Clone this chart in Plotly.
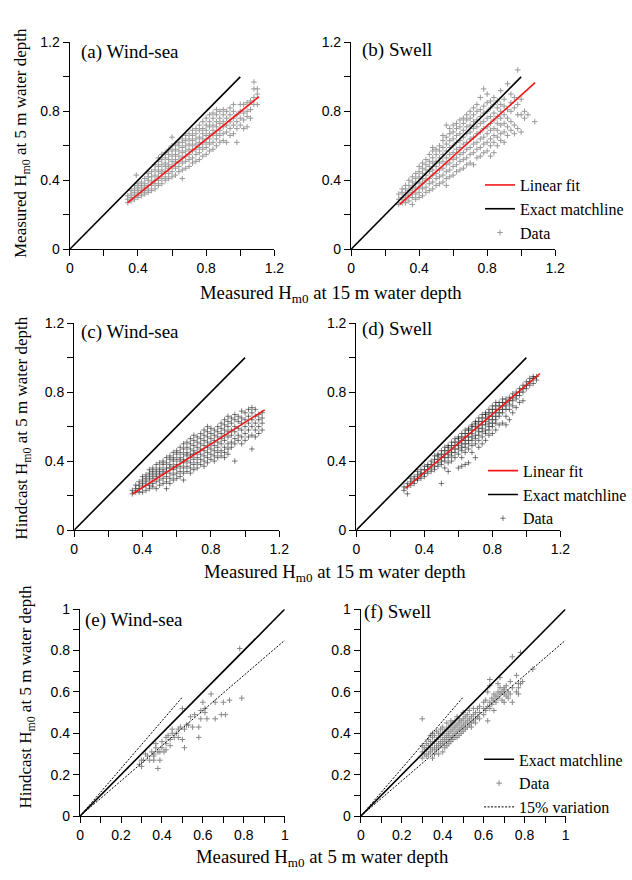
import plotly.graph_objects as go

W, H = 632, 880
def px(x): return x / W
def py(y): return 1 - y / H

# ---------------- data (columns of x with the y values read at that x) ----------------
A_X = [0.34, 0.36, 0.38, 0.39, 0.40, 0.42, 0.44, 0.46, 0.48, 0.50, 0.52, 0.54, 0.56, 0.58, 0.60,
       0.62, 0.64, 0.66, 0.68, 0.70, 0.72, 0.74, 0.76, 0.78, 0.80, 0.82, 0.84, 0.86, 0.88, 0.90,
       0.92, 0.94, 0.96, 0.98, 1.00, 1.02, 1.04, 1.06, 1.08, 1.10]
A_Y = [[0.27, 0.29, 0.31], [0.28, 0.30, 0.32, 0.34], [0.29, 0.31, 0.33, 0.35, 0.37], [0.43],
       [0.30, 0.32, 0.34, 0.36, 0.38], [0.31, 0.33, 0.35, 0.37, 0.39], [0.32, 0.34, 0.36, 0.38, 0.41],
       [0.33, 0.35, 0.37, 0.40, 0.42, 0.44], [0.34, 0.37, 0.39, 0.42, 0.45],
       [0.35, 0.38, 0.40, 0.43, 0.46, 0.49], [0.37, 0.40, 0.42, 0.45, 0.48, 0.51, 0.53],
       [0.38, 0.41, 0.44, 0.46, 0.49, 0.52, 0.55], [0.40, 0.42, 0.45, 0.48, 0.50, 0.53, 0.56],
       [0.41, 0.44, 0.47, 0.49, 0.52, 0.55, 0.58], [0.42, 0.45, 0.48, 0.51, 0.54, 0.57, 0.60, 0.65],
       [0.43, 0.47, 0.50, 0.52, 0.55, 0.58, 0.61], [0.45, 0.48, 0.51, 0.54, 0.57, 0.60, 0.62],
       [0.41, 0.46, 0.50, 0.53, 0.56, 0.59, 0.62, 0.64], [0.47, 0.51, 0.54, 0.57, 0.60, 0.63, 0.66],
       [0.48, 0.52, 0.55, 0.58, 0.61, 0.64, 0.67], [0.50, 0.53, 0.57, 0.60, 0.63, 0.66, 0.69],
       [0.51, 0.55, 0.58, 0.61, 0.64, 0.67, 0.70], [0.52, 0.56, 0.59, 0.62, 0.65, 0.69, 0.72],
       [0.54, 0.58, 0.61, 0.64, 0.67, 0.70, 0.74], [0.55, 0.59, 0.62, 0.66, 0.69, 0.72, 0.76],
       [0.57, 0.61, 0.64, 0.67, 0.71, 0.74, 0.78], [0.58, 0.62, 0.66, 0.69, 0.72, 0.76, 0.79],
       [0.60, 0.64, 0.67, 0.71, 0.74, 0.78, 0.81], [0.62, 0.66, 0.69, 0.73, 0.76, 0.80],
       [0.63, 0.67, 0.71, 0.74, 0.78, 0.81], [0.62, 0.68, 0.72, 0.76, 0.80],
       [0.66, 0.70, 0.74, 0.78, 0.82], [0.67, 0.72, 0.76, 0.80, 0.84], [0.62, 0.70, 0.74, 0.78],
       [0.72, 0.76, 0.80, 0.84], [0.70, 0.75, 0.79, 0.84], [0.71, 0.77, 0.80, 0.85],
       [0.76, 0.81, 0.86], [0.84, 0.88, 0.93, 0.97], [0.84, 0.90, 0.93]]

B_X = [0.28, 0.30, 0.32, 0.34, 0.36, 0.38, 0.40, 0.42, 0.44, 0.46, 0.48, 0.50, 0.52, 0.54, 0.56,
       0.58, 0.60, 0.62, 0.64, 0.66, 0.68, 0.70, 0.72, 0.74, 0.76, 0.78, 0.80, 0.82, 0.84, 0.86,
       0.88, 0.90, 0.92, 0.94, 0.96, 0.98, 1.00, 1.02, 1.04, 1.08]
B_Y = [[0.26, 0.29, 0.32], [0.27, 0.30, 0.33, 0.35], [0.27, 0.29, 0.32, 0.35, 0.37],
       [0.28, 0.31, 0.34, 0.37, 0.40], [0.26, 0.30, 0.33, 0.36, 0.39, 0.42],
       [0.29, 0.32, 0.35, 0.38, 0.41, 0.44], [0.30, 0.33, 0.36, 0.39, 0.42, 0.45, 0.48],
       [0.31, 0.35, 0.38, 0.41, 0.44, 0.47, 0.50], [0.33, 0.36, 0.40, 0.43, 0.46, 0.49, 0.52],
       [0.34, 0.38, 0.41, 0.45, 0.48, 0.51, 0.55], [0.35, 0.39, 0.43, 0.46, 0.50, 0.53, 0.57, 0.59],
       [0.37, 0.41, 0.44, 0.48, 0.51, 0.55, 0.58], [0.38, 0.42, 0.46, 0.50, 0.53, 0.57, 0.60],
       [0.39, 0.43, 0.47, 0.51, 0.55, 0.59, 0.63, 0.66],
       [0.37, 0.41, 0.45, 0.49, 0.53, 0.57, 0.61, 0.65, 0.72],
       [0.42, 0.46, 0.50, 0.55, 0.59, 0.63, 0.67, 0.70], [0.43, 0.48, 0.52, 0.56, 0.60, 0.64, 0.68, 0.72],
       [0.45, 0.49, 0.53, 0.58, 0.62, 0.66, 0.70, 0.73], [0.46, 0.51, 0.55, 0.59, 0.63, 0.67, 0.71, 0.75],
       [0.47, 0.52, 0.56, 0.61, 0.65, 0.69, 0.73, 0.76], [0.49, 0.53, 0.58, 0.62, 0.67, 0.71, 0.75, 0.78],
       [0.50, 0.55, 0.59, 0.64, 0.68, 0.72, 0.76, 0.80], [0.49, 0.56, 0.61, 0.65, 0.70, 0.74, 0.78, 0.82],
       [0.53, 0.58, 0.62, 0.67, 0.71, 0.75, 0.80, 0.84], [0.54, 0.59, 0.64, 0.68, 0.73, 0.77, 0.81, 0.88],
       [0.56, 0.61, 0.65, 0.70, 0.74, 0.79, 0.83, 0.93], [0.57, 0.62, 0.67, 0.71, 0.76, 0.80, 0.85, 0.90],
       [0.54, 0.60, 0.64, 0.69, 0.73, 0.77, 0.82, 0.86], [0.56, 0.62, 0.66, 0.70, 0.75, 0.79, 0.84, 0.88],
       [0.60, 0.65, 0.69, 0.73, 0.77, 0.82, 0.86], [0.63, 0.67, 0.72, 0.76, 0.80, 0.84, 0.92],
       [0.62, 0.68, 0.73, 0.78, 0.83, 0.87], [0.66, 0.71, 0.76, 0.81, 0.96],
       [0.69, 0.74, 0.80, 0.85, 0.90], [0.67, 0.72, 0.82, 0.88], [0.70, 0.78, 0.84, 1.04],
       [0.68, 0.78, 0.87], [0.76, 0.80], [0.78], [0.74]]

C_X = [0.34, 0.36, 0.38, 0.40, 0.42, 0.44, 0.46, 0.48, 0.50, 0.52, 0.54, 0.56, 0.58, 0.60, 0.62,
       0.64, 0.66, 0.68, 0.70, 0.72, 0.74, 0.76, 0.78, 0.80, 0.82, 0.84, 0.86, 0.88, 0.90, 0.92,
       0.94, 0.96, 0.98, 1.00, 1.02, 1.04, 1.06, 1.08, 1.10]
C_Y = [[0.21, 0.23], [0.22, 0.24, 0.26], [0.22, 0.24, 0.26, 0.28], [0.22, 0.25, 0.27, 0.29, 0.31],
       [0.23, 0.26, 0.28, 0.30, 0.32], [0.24, 0.26, 0.29, 0.31, 0.33, 0.35],
       [0.25, 0.27, 0.30, 0.32, 0.34, 0.36], [0.24, 0.28, 0.31, 0.33, 0.35, 0.38],
       [0.26, 0.29, 0.32, 0.34, 0.36, 0.39], [0.27, 0.30, 0.33, 0.35, 0.38, 0.40],
       [0.24, 0.28, 0.31, 0.34, 0.36, 0.39, 0.42], [0.27, 0.30, 0.33, 0.36, 0.38, 0.41, 0.43],
       [0.29, 0.32, 0.35, 0.37, 0.40, 0.42, 0.45], [0.30, 0.33, 0.36, 0.38, 0.41, 0.44, 0.46],
       [0.31, 0.34, 0.37, 0.40, 0.42, 0.45, 0.48], [0.29, 0.33, 0.36, 0.39, 0.41, 0.44, 0.47, 0.50],
       [0.34, 0.37, 0.40, 0.43, 0.45, 0.48, 0.51], [0.33, 0.36, 0.39, 0.42, 0.44, 0.47, 0.50, 0.53],
       [0.35, 0.38, 0.41, 0.44, 0.46, 0.49, 0.52, 0.55], [0.36, 0.39, 0.42, 0.45, 0.48, 0.51, 0.54],
       [0.38, 0.41, 0.44, 0.47, 0.50, 0.53, 0.56], [0.37, 0.40, 0.43, 0.46, 0.49, 0.52, 0.55, 0.58],
       [0.39, 0.42, 0.45, 0.48, 0.51, 0.54, 0.57, 0.60], [0.41, 0.44, 0.47, 0.50, 0.53, 0.56, 0.59],
       [0.40, 0.43, 0.46, 0.49, 0.52, 0.55, 0.58], [0.42, 0.45, 0.48, 0.51, 0.54, 0.57, 0.60],
       [0.43, 0.46, 0.50, 0.53, 0.56, 0.59, 0.62], [0.42, 0.45, 0.48, 0.52, 0.55, 0.58, 0.61, 0.64],
       [0.44, 0.47, 0.50, 0.54, 0.57, 0.60, 0.63, 0.66], [0.48, 0.51, 0.55, 0.58, 0.62, 0.65],
       [0.40, 0.50, 0.53, 0.57, 0.60, 0.64, 0.67], [0.52, 0.55, 0.59, 0.63, 0.66],
       [0.50, 0.54, 0.58, 0.62, 0.65, 0.69], [0.52, 0.56, 0.60, 0.64, 0.68],
       [0.54, 0.58, 0.62, 0.66, 0.70], [0.47, 0.55, 0.60, 0.64, 0.68, 0.71],
       [0.54, 0.58, 0.62, 0.66, 0.70], [0.56, 0.60, 0.64, 0.67], [0.58, 0.62, 0.65, 0.68]]

D_X = [0.28, 0.30, 0.32, 0.34, 0.36, 0.38, 0.40, 0.42, 0.44, 0.46, 0.48, 0.50, 0.52, 0.54, 0.56,
       0.58, 0.60, 0.62, 0.64, 0.66, 0.68, 0.70, 0.72, 0.74, 0.76, 0.78, 0.80, 0.82, 0.84, 0.86,
       0.88, 0.90, 0.92, 0.94, 0.96, 0.98, 1.00, 1.02, 1.04, 1.06]
D_Y = [[0.23, 0.25], [0.21, 0.25, 0.27], [0.26, 0.28, 0.30], [0.27, 0.29, 0.31],
       [0.29, 0.30, 0.32, 0.34], [0.30, 0.32, 0.33, 0.35], [0.31, 0.33, 0.35, 0.37],
       [0.33, 0.35, 0.37, 0.38], [0.34, 0.36, 0.38, 0.40], [0.35, 0.37, 0.39, 0.41, 0.43],
       [0.37, 0.39, 0.41, 0.43, 0.44], [0.27, 0.38, 0.40, 0.42, 0.44, 0.46],
       [0.36, 0.40, 0.42, 0.44, 0.46, 0.48], [0.34, 0.39, 0.42, 0.44, 0.46, 0.48, 0.49],
       [0.40, 0.43, 0.45, 0.47, 0.49, 0.51], [0.42, 0.45, 0.47, 0.49, 0.51, 0.53],
       [0.36, 0.44, 0.47, 0.49, 0.51, 0.53, 0.54], [0.37, 0.42, 0.46, 0.48, 0.50, 0.52, 0.54, 0.56],
       [0.38, 0.45, 0.48, 0.50, 0.52, 0.54, 0.56, 0.58], [0.39, 0.47, 0.50, 0.52, 0.54, 0.56, 0.58, 0.59],
       [0.45, 0.49, 0.52, 0.54, 0.56, 0.58, 0.60, 0.61], [0.42, 0.50, 0.53, 0.55, 0.58, 0.60, 0.62, 0.63],
       [0.48, 0.52, 0.55, 0.57, 0.59, 0.61, 0.63, 0.65], [0.50, 0.54, 0.57, 0.59, 0.61, 0.63, 0.65, 0.67],
       [0.52, 0.56, 0.58, 0.61, 0.63, 0.65, 0.67, 0.68], [0.55, 0.58, 0.60, 0.62, 0.64, 0.66, 0.68, 0.70],
       [0.56, 0.60, 0.62, 0.64, 0.66, 0.68, 0.70, 0.72], [0.58, 0.62, 0.64, 0.66, 0.68, 0.70, 0.72, 0.74],
       [0.61, 0.66, 0.68, 0.70, 0.72, 0.74], [0.62, 0.68, 0.70, 0.72, 0.74, 0.76],
       [0.61, 0.66, 0.70, 0.72, 0.74, 0.76], [0.64, 0.70, 0.73, 0.75, 0.77],
       [0.68, 0.72, 0.75, 0.77, 0.79], [0.71, 0.76, 0.78, 0.80], [0.74, 0.78, 0.80, 0.82],
       [0.75, 0.80, 0.82, 0.84], [0.82, 0.84, 0.86], [0.84, 0.86, 0.88], [0.85, 0.88, 0.89],
       [0.87, 0.89]]

E_X = [0.29, 0.30, 0.30, 0.31, 0.32, 0.33, 0.34, 0.35, 0.36, 0.36, 0.36, 0.37, 0.37, 0.38, 0.38,
       0.39, 0.39, 0.40, 0.40, 0.41, 0.42, 0.42, 0.42, 0.43, 0.44, 0.44, 0.45, 0.45, 0.46, 0.47,
       0.48, 0.48, 0.49, 0.50, 0.50, 0.51, 0.51, 0.52, 0.53, 0.54, 0.55, 0.56, 0.58, 0.58, 0.59,
       0.59, 0.60, 0.61, 0.61, 0.62, 0.64, 0.66, 0.66, 0.69, 0.70, 0.71, 0.73, 0.78, 0.79]
E_Y = [0.25, 0.24, 0.27, 0.27, 0.30, 0.29, 0.27, 0.31, 0.27, 0.29, 0.30, 0.35, 0.33, 0.31, 0.23,
       0.27, 0.31, 0.36, 0.33, 0.31, 0.35, 0.38, 0.32, 0.39, 0.34, 0.37, 0.42, 0.40, 0.38, 0.40,
       0.38, 0.42, 0.43, 0.37, 0.52, 0.42, 0.33, 0.44, 0.44, 0.48, 0.43, 0.49, 0.43, 0.38, 0.51,
       0.47, 0.55, 0.50, 0.52, 0.47, 0.59, 0.55, 0.47, 0.49, 0.55, 0.49, 0.56, 0.81, 0.57]

F_X = [0.30, 0.30, 0.30, 0.30, 0.31, 0.31, 0.32, 0.32, 0.32, 0.33, 0.33, 0.33, 0.34, 0.34, 0.34,
       0.34, 0.35, 0.35, 0.35, 0.35, 0.35, 0.36, 0.36, 0.36, 0.36, 0.37, 0.37, 0.37, 0.37, 0.38,
       0.38, 0.38, 0.38, 0.38, 0.39, 0.39, 0.39, 0.39, 0.40, 0.40, 0.40, 0.40, 0.40, 0.41, 0.41,
       0.41, 0.41, 0.42, 0.42, 0.42, 0.42, 0.42, 0.43, 0.43, 0.43, 0.43, 0.44, 0.44, 0.44, 0.44,
       0.44, 0.45, 0.45, 0.45, 0.45, 0.46, 0.46, 0.46, 0.46, 0.47, 0.47, 0.47, 0.47, 0.48, 0.48,
       0.48, 0.48, 0.49, 0.49, 0.49, 0.50, 0.50, 0.50, 0.50, 0.51, 0.51, 0.51, 0.52, 0.52, 0.52,
       0.53, 0.53, 0.53, 0.54, 0.54, 0.54, 0.55, 0.55, 0.55, 0.56, 0.56, 0.56, 0.57, 0.57, 0.58,
       0.58, 0.58, 0.60, 0.60, 0.60, 0.61, 0.61, 0.62, 0.62, 0.62, 0.63, 0.63, 0.63, 0.63, 0.64,
       0.64, 0.65, 0.65, 0.65, 0.66, 0.66, 0.67, 0.67, 0.67, 0.68, 0.68, 0.68, 0.69, 0.69, 0.70,
       0.70, 0.70, 0.70, 0.71, 0.71, 0.72, 0.72, 0.73, 0.73, 0.74, 0.74, 0.74, 0.76, 0.76, 0.77,
       0.77, 0.77, 0.78, 0.78, 0.79, 0.84]
F_Y = [0.28, 0.31, 0.34, 0.47, 0.30, 0.33, 0.29, 0.32, 0.35, 0.30, 0.34, 0.37, 0.31, 0.33, 0.36,
       0.39, 0.28, 0.32, 0.35, 0.38, 0.40, 0.30, 0.33, 0.36, 0.39, 0.32, 0.34, 0.37, 0.41, 0.30,
       0.33, 0.35, 0.38, 0.40, 0.34, 0.36, 0.39, 0.42, 0.31, 0.35, 0.37, 0.40, 0.43, 0.33, 0.36,
       0.38, 0.41, 0.34, 0.37, 0.39, 0.42, 0.45, 0.35, 0.38, 0.40, 0.43, 0.36, 0.38, 0.41, 0.44,
       0.46, 0.37, 0.39, 0.42, 0.45, 0.38, 0.40, 0.43, 0.46, 0.38, 0.41, 0.44, 0.48, 0.39, 0.42,
       0.45, 0.47, 0.40, 0.43, 0.46, 0.41, 0.44, 0.47, 0.50, 0.42, 0.45, 0.48, 0.43, 0.46, 0.49,
       0.44, 0.47, 0.51, 0.43, 0.45, 0.48, 0.46, 0.49, 0.52, 0.45, 0.47, 0.50, 0.48, 0.52, 0.47,
       0.50, 0.53, 0.49, 0.52, 0.55, 0.51, 0.56, 0.46, 0.53, 0.60, 0.52, 0.55, 0.63, 0.66, 0.54,
       0.57, 0.51, 0.56, 0.59, 0.55, 0.58, 0.57, 0.60, 0.64, 0.59, 0.62, 0.67, 0.56, 0.60, 0.55,
       0.59, 0.61, 0.62, 0.58, 0.63, 0.57, 0.60, 0.59, 0.65, 0.55, 0.62, 0.77, 0.60, 0.68, 0.59,
       0.62, 0.64, 0.64, 0.79, 0.65, 0.71]

# reference lines
EXACT_X = [0, 1]
EXACT_Y = [0, 1]
FIT_A_X, FIT_A_Y = [0.34, 1.11], [0.27, 0.885]
FIT_B_X, FIT_B_Y = [0.286, 1.082], [0.26, 0.966]
FIT_C_X, FIT_C_Y = [0.34, 1.115], [0.209, 0.697]
FIT_D_X, FIT_D_Y = [0.289, 1.08], [0.241, 0.908]
VAR_HI_X, VAR_HI_Y = [0, 0.5], [0, 0.575]
VAR_LO_X, VAR_LO_Y = [0, 1], [0, 0.85]


def flatten(xs, ys):
    fx, fy = [], []
    for x, col in zip(xs, ys):
        for y in col:
            fx.append(x)
            fy.append(y)
    return fx, fy


SERIF = "Liberation Serif"
SANS = "Liberation Sans"
RED = "#f01818"

fig = go.Figure()

# panel pixel boxes: (left, right, top, bottom)
boxes = {
    1: (67.7, 278.3, 35.0, 245.7),
    2: (357.3, 567.3, 35.0, 245.7),
    3: (72.3, 283.3, 321.0, 531.7),
    4: (362.7, 572.7, 321.0, 531.7),
    5: (78.3, 289.0, 612.3, 823.0),
    6: (367.3, 578.0, 612.3, 823.0),
}

cloud_color = {1: "#999999", 2: "#999999", 3: "rgba(0,0,0,0.5)", 4: "rgba(0,0,0,0.5)",
               5: "#888888", 6: "#888888"}
legend_of = {2: "legend", 4: "legend2", 6: "legend3"}


def axn(i, kind):
    return kind if i == 1 else f"{kind}{i}"


def add(i, trace):
    trace.update(xaxis=axn(i, "x"), yaxis=axn(i, "y"))
    fig.add_trace(trace)


clouds = {1: flatten(A_X, A_Y), 2: flatten(B_X, B_Y), 3: flatten(C_X, C_Y),
          4: flatten(D_X, D_Y), 5: (E_X, E_Y), 6: (F_X, F_Y)}
fits = {1: (FIT_A_X, FIT_A_Y), 2: (FIT_B_X, FIT_B_Y), 3: (FIT_C_X, FIT_C_Y), 4: (FIT_D_X, FIT_D_Y)}
DOT = "2px,1.5px"

for i in range(1, 7):
    show = i in legend_of
    lg = legend_of.get(i, "legend")
    cx, cy = clouds[i]
    add(i, go.Scatter(x=cx, y=cy, mode="markers", name="Data", showlegend=show, legend=lg,
                      legendrank=2 if i == 6 else 3,
                      marker=dict(symbol="cross-thin-open", size=4,
                                  line=dict(width=1, color=cloud_color[i]), color=cloud_color[i])))
    if i <= 4:
        add(i, go.Scatter(x=EXACT_X, y=EXACT_Y, mode="lines", name="Exact matchline",
                          showlegend=show, legend=lg, legendrank=2,
                          line=dict(color="black", width=1.6)))
        fx, fy = fits[i]
        add(i, go.Scatter(x=fx, y=fy, mode="lines", name="Linear fit", showlegend=show,
                          legend=lg, legendrank=1, line=dict(color=RED, width=1.6)))
    else:
        add(i, go.Scatter(x=EXACT_X, y=EXACT_Y, mode="lines", name="Exact matchline",
                          showlegend=show, legend=lg, legendrank=1,
                          line=dict(color="black", width=1.6)))
        add(i, go.Scatter(x=VAR_LO_X, y=VAR_LO_Y, mode="lines", name="15% variation",
                          showlegend=show, legend=lg, legendrank=3,
                          line=dict(color="black", width=1, dash=DOT)))
        add(i, go.Scatter(x=VAR_HI_X, y=VAR_HI_Y, mode="lines", name="15% variation",
                          showlegend=False, legend=lg,
                          line=dict(color="black", width=1, dash=DOT)))

layout = dict(
    width=W, height=H, margin=dict(l=0, r=0, t=0, b=0),
    paper_bgcolor="white", plot_bgcolor="white",
    font=dict(family=SERIF, color="black"),
)

for i, (l, r, t, b) in boxes.items():
    if i <= 4:
        rng = [0, 1.2]
        tv = [0, 0.4, 0.8, 1.2]
        tt = ["0", "0.4", "0.8", "1.2"]
        mv = [0.2, 0.6, 1.0]
    else:
        rng = [0, 1]
        tv = [0, 0.2, 0.4, 0.6, 0.8, 1]
        tt = ["0", "0.2", "0.4", "0.6", "0.8", "1"]
        mv = [0.1, 0.3, 0.5, 0.7, 0.9]
    common = dict(range=rng, showline=True, linecolor="black", linewidth=1.4,
                  ticks="outside", ticklen=6, tickwidth=1.4, tickcolor="black",
                  tickmode="array", tickvals=tv, ticktext=tt,
                  minor=dict(tickmode="array", tickvals=mv, ticks="outside", ticklen=6,
                             tickwidth=1.4, tickcolor="black", showgrid=False),
                  showgrid=False, zeroline=False,
                  tickfont=dict(family=SANS, size=14, color="black"))
    layout["xaxis" if i == 1 else f"xaxis{i}"] = dict(
        domain=[px(l), px(r)], anchor=axn(i, "y"), **common)
    layout["yaxis" if i == 1 else f"yaxis{i}"] = dict(
        domain=[py(b), py(t)], anchor=axn(i, "x"), **common)

leg_common = dict(font=dict(family=SERIF, size=16, color="black"), bgcolor="rgba(0,0,0,0)",
                  xanchor="left", yanchor="top", tracegroupgap=0, traceorder="normal")
layout["legend"] = dict(x=px(490), y=py(163), **leg_common)
layout["legend2"] = dict(x=px(493), y=py(454), **leg_common)
layout["legend3"] = dict(x=px(489), y=py(748), **leg_common)

fig.update_layout(**layout)

# panel labels
labels = [("(a) Wind-sea", 77, 45), ("(b) Swell", 366, 43), ("(c) Wind-sea", 77, 330),
          ("(d) Swell", 366, 327), ("(e) Wind-sea", 81.5, 623), ("(f) Swell", 369, 615)]
for txt, x, y in labels:
    fig.add_annotation(text=txt, x=px(x), y=py(y), xref="paper", yref="paper",
                       xanchor="left", yanchor="middle", showarrow=False,
                       font=dict(family=SERIF, size=19, color="black"))

# axis titles
xt = [("Measured H<sub>m0</sub> at 15 m water depth", 337, 291),
      ("Measured H<sub>m0</sub> at 15 m water depth", 341, 575),
      ("Measured H<sub>m0</sub> at 5 m water depth", 328, 866)]
for txt, x, y in xt:
    fig.add_annotation(text=txt, x=px(x), y=py(y), xref="paper", yref="paper",
                       xanchor="center", yanchor="middle", showarrow=False,
                       font=dict(family=SERIF, size=18.7, color="black"))
yt = [("Measured H<sub>m0</sub> at 5 m water depth", 18, 137),
      ("Hindcast H<sub>m0</sub> at 5 m water depth", 20, 428),
      ("Hindcast H<sub>m0</sub> at 5 m water depth", 24, 702)]
for txt, x, y in yt:
    fig.add_annotation(text=txt, x=px(x), y=py(y), xref="paper", yref="paper",
                       xanchor="center", yanchor="middle", showarrow=False, textangle=-90,
                       font=dict(family=SERIF, size=17, color="black"))

fig.write_html("out.html")
